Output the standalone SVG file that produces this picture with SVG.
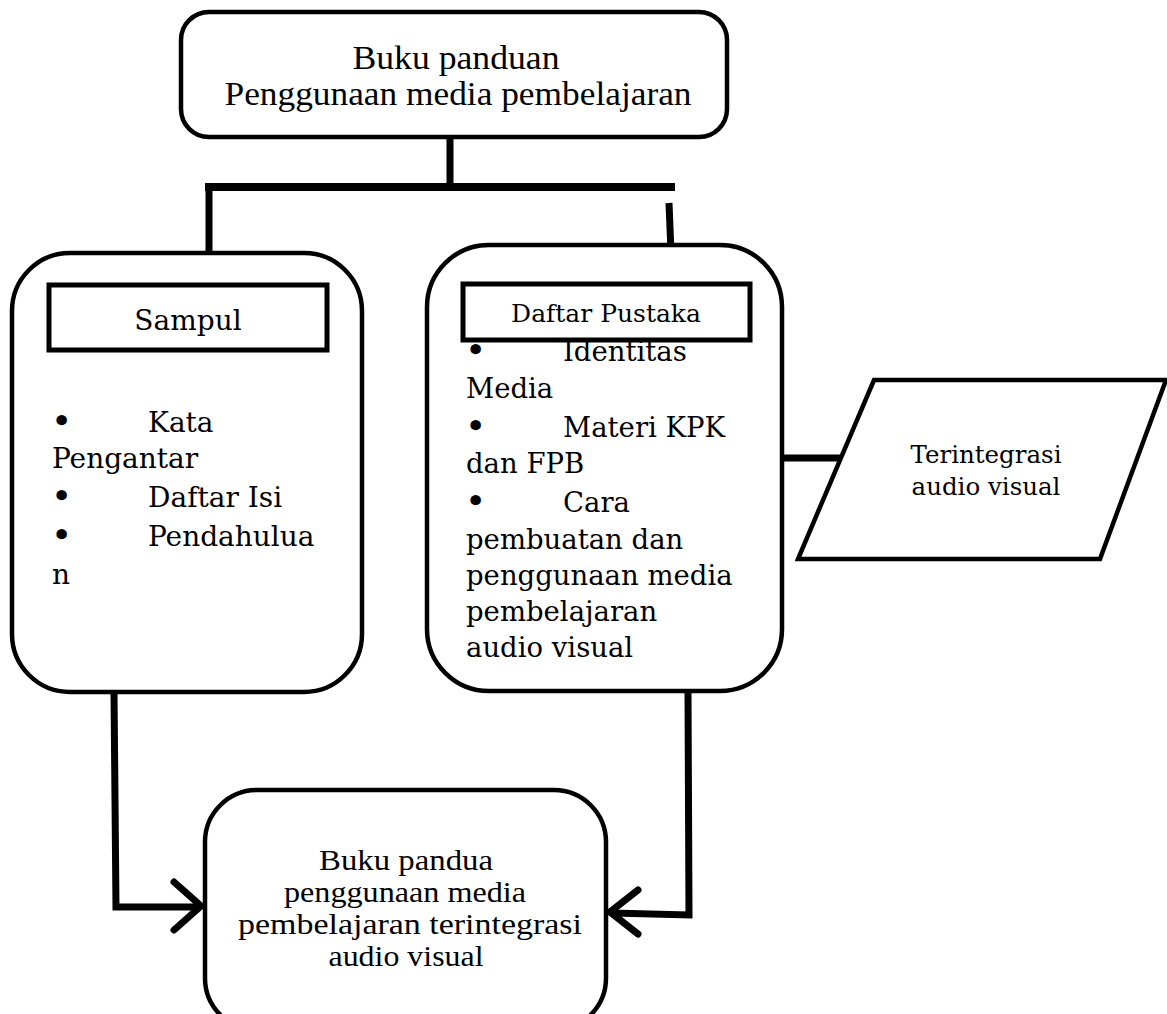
<svg xmlns="http://www.w3.org/2000/svg" width="1167" height="1014" viewBox="0 0 1167 1014">
<style>
.box{fill:#fff;stroke:#000;stroke-width:4.5}
.conn{fill:none;stroke:#000;stroke-width:7;stroke-linecap:butt}
.arr{fill:none;stroke:#000;stroke-width:7;stroke-linecap:round;stroke-linejoin:miter}
.tt{font-family:"Liberation Serif","Times New Roman",serif;fill:#000;text-anchor:middle}
.gg{font-family:"DejaVu Serif",Georgia,serif;fill:#000}
.bl{font-family:"DejaVu Serif",Georgia,serif;fill:#000;font-size:36px}
</style>
<rect width="1167" height="1014" fill="#fff"/>
<g id="connectors">
<line class="conn" x1="450" y1="137" x2="450" y2="186"/>
<line class="conn" x1="205" y1="187" x2="675" y2="187" style="stroke-width:8"/>
<line class="conn" x1="209" y1="184" x2="209" y2="252"/>
<line class="conn" x1="669" y1="203" x2="672" y2="277"/>
<line class="conn" x1="782" y1="458" x2="842" y2="458"/>
<polyline class="conn" points="114,692 116,907 200,907"/>
<polyline class="arr" points="174,882 201,906 174,930"/>
<polyline class="conn" points="688,692 689,915 612,913"/>
<polyline class="arr" points="638,890 610,912 638,934"/>
</g>
<g id="node-top">
<rect class="box" x="181" y="12" width="546" height="125" rx="28"/>
<text class="tt" x="456" y="69" font-size="33" textLength="207" lengthAdjust="spacingAndGlyphs">Buku panduan</text>
<text class="tt" x="458" y="105" font-size="33" textLength="467" lengthAdjust="spacingAndGlyphs">Penggunaan media pembelajaran</text>
</g>
<g id="node-left">
<rect class="box" x="12" y="253" width="350" height="439" rx="58"/>
<rect x="49" y="285" width="278" height="65" fill="#fff" stroke="#000" stroke-width="5"/>
<text class="gg" x="188" y="330" font-size="28" text-anchor="middle">Sampul</text>
<g class="gg" font-size="28">
<text class="bl" x="51" y="433">•</text><text x="148" y="432">Kata</text>
<text x="52" y="468">Pengantar</text>
<text class="bl" x="51" y="508">•</text><text x="148" y="507">Daftar Isi</text>
<text class="bl" x="51" y="547">•</text><text x="148" y="546">Pendahulua</text>
<text x="52" y="584">n</text>
</g>
</g>
<g id="node-right">
<rect class="box" x="427" y="245" width="355" height="446" rx="62"/>
<g class="gg" font-size="27.5">
<text class="bl" x="465" y="362">•</text><text x="563" y="361">Identitas</text>
<text x="466" y="398">Media</text>
<text class="bl" x="465" y="438">•</text><text x="563" y="437">Materi KPK</text>
<text x="466" y="473">dan FPB</text>
<text class="bl" x="465" y="513">•</text><text x="563" y="512">Cara</text>
<text x="466" y="549">pembuatan dan</text>
<text x="466" y="585">penggunaan media</text>
<text x="466" y="621">pembelajaran</text>
<text x="466" y="657">audio visual</text>
</g>
<rect x="463" y="284" width="287" height="56" fill="#fff" stroke="#000" stroke-width="5"/>
<text class="gg" x="606" y="322" font-size="25" text-anchor="middle">Daftar Pustaka</text>
</g>
<g id="node-parallelogram">
<polygon class="box" points="874,380 1166,380 1100,559 798,559"/>
<text class="gg" x="986" y="463" font-size="24.5" text-anchor="middle">Terintegrasi</text>
<text class="gg" x="986" y="495" font-size="24.5" text-anchor="middle">audio visual</text>
</g>
<g id="node-bottom">
<rect class="box" x="205" y="790" width="401" height="240" rx="52"/>
<text class="tt" x="406" y="870" font-size="29" textLength="174" lengthAdjust="spacingAndGlyphs">Buku pandua</text>
<text class="tt" x="405" y="902" font-size="29" textLength="242" lengthAdjust="spacingAndGlyphs">penggunaan media</text>
<text class="tt" x="410" y="934" font-size="29" textLength="344" lengthAdjust="spacingAndGlyphs">pembelajaran terintegrasi</text>
<text class="tt" x="406" y="966" font-size="29" textLength="155" lengthAdjust="spacingAndGlyphs">audio visual</text>
</g>
</svg>
